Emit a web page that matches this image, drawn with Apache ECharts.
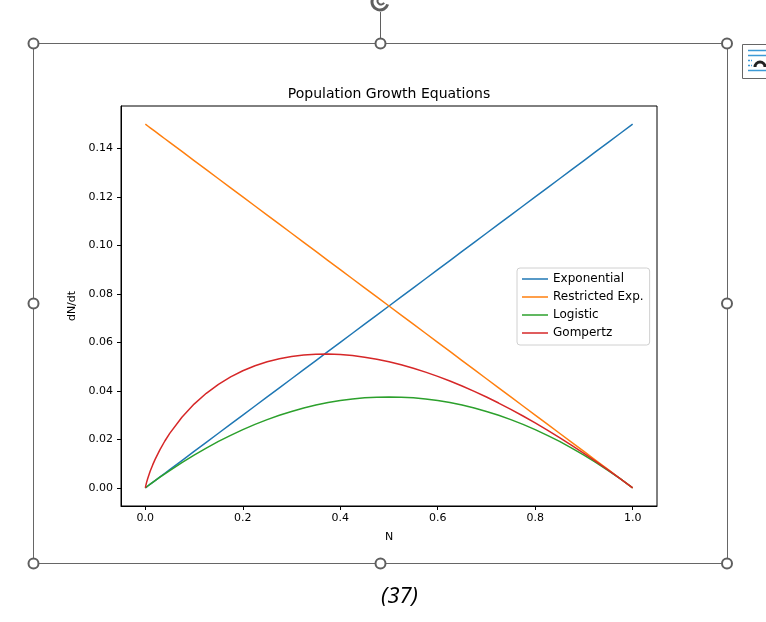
<!DOCTYPE html>
<html>
<head>
<meta charset="utf-8">
<script src="https://cdn.jsdelivr.net/npm/echarts@6/dist/echarts.min.js"></script>
<style>
  html, body { margin: 0; padding: 0; background: #fff; }
  #chart { width: 766px; height: 622px; }
</style>
</head>
<body>
<div id="chart"></div>
<script>
// values
var N = [0, 0.001, 0.0025, 0.005, 0.01, 0.015, 0.02, 0.03, 0.04,
	0.05, 0.075, 0.1, 0.125, 0.15, 0.175, 0.2, 0.225, 0.25, 0.275, 0.3, 0.325, 0.35, 0.375, 0.4, 0.425, 0.45, 0.475,
	0.5, 0.525, 0.55, 0.575, 0.6, 0.625, 0.65, 0.675, 0.7, 0.725, 0.75, 0.775, 0.8, 0.825, 0.85, 0.875, 0.9, 0.925, 0.95, 0.975, 1.0];
var exponential = [0, 0.00015, 0.000375, 0.00075, 0.0015, 0.00225, 0.003, 0.0045, 0.006,
	0.0075, 0.01125, 0.015, 0.01875, 0.0225, 0.02625, 0.03, 0.03375, 0.0375, 0.04125, 0.045, 0.04875, 0.0525, 0.05625, 0.06, 0.06375, 0.0675, 0.07125,
	0.075, 0.07875, 0.0825, 0.08625, 0.09, 0.09375, 0.0975, 0.10125, 0.105, 0.10875, 0.1125, 0.11625, 0.12, 0.12375, 0.1275, 0.13125, 0.135, 0.13875, 0.1425, 0.14625, 0.15];
var restricted = [0.15, 0.14985, 0.149625, 0.14925, 0.1485, 0.14775, 0.147, 0.1455, 0.144,
	0.1425, 0.13875, 0.135, 0.13125, 0.1275, 0.12375, 0.12, 0.11625, 0.1125, 0.10875, 0.105, 0.10125, 0.0975, 0.09375, 0.09, 0.08625, 0.0825, 0.07875,
	0.075, 0.07125, 0.0675, 0.06375, 0.06, 0.05625, 0.0525, 0.04875, 0.045, 0.04125, 0.0375, 0.03375, 0.03, 0.02625, 0.0225, 0.01875, 0.015, 0.01125, 0.0075, 0.00375, 0];
var logistic = [0, 0.00015, 0.000374, 0.000746, 0.001485, 0.002216, 0.00294, 0.004365, 0.00576,
	0.007125, 0.010406, 0.0135, 0.016406, 0.019125, 0.021656, 0.024, 0.026156, 0.028125, 0.029906, 0.0315, 0.032906, 0.034125, 0.035156, 0.036, 0.036656, 0.037125, 0.037406,
	0.0375, 0.037406, 0.037125, 0.036656, 0.036, 0.035156, 0.034125, 0.032906, 0.0315, 0.029906, 0.028125, 0.026156, 0.024, 0.021656, 0.019125, 0.016406, 0.0135, 0.010406, 0.007125, 0.003656, 0];
var gompertz = [0, 0.001036, 0.002247, 0.00397, 0.00691, 0.009449, 0.01174, 0.01578, 0.019313,
	0.02247, 0.02914, 0.03454, 0.03899, 0.04269, 0.04575, 0.04828, 0.05034, 0.05199, 0.05325, 0.05418, 0.05479, 0.05512, 0.05517, 0.05498, 0.05455, 0.0539, 0.05304,
	0.05199, 0.05074, 0.04932, 0.04773, 0.04597, 0.04406, 0.042, 0.0398, 0.03745, 0.03497, 0.03236, 0.02963, 0.02678, 0.02381, 0.02072, 0.01753, 0.01422, 0.01082, 0.00731, 0.0037, 0];
var seriesNames = ['Exponential', 'Restricted Exp.', 'Logistic', 'Gompertz'];
var xTicks = [0, 0.2, 0.4, 0.6, 0.8, 1.0];
var yTicks = [0, 0.02, 0.04, 0.06, 0.08, 0.10, 0.12, 0.14];

var colors = ['#1f77b4', '#ff7f0e', '#2ca02c', '#d62728'];
var values = [exponential, restricted, logistic, gompertz];

function pairs(arr) {
	return N.map(function(n, i) { return [n, arr[i]]; });
}

var handleColor = '#5f5f5f';
function handle(x, y) {
	return {
		type: 'circle',
		shape: { cx: x, cy: y, r: 5 },
		style: { fill: '#fff', stroke: handleColor, lineWidth: 2 },
		z: 100
	};
}

var chart = echarts.init(document.getElementById('chart'), null, { renderer: 'canvas' });

chart.setOption({
	animation: false,
	backgroundColor: '#fff',
	textStyle: { fontFamily: 'DejaVu Sans' },
	title: {
		text: 'Population Growth Equations',
		left: 389,
		top: 87,
		textAlign: 'center',
		padding: 0,
		textStyle: { fontFamily: 'DejaVu Sans', fontSize: 14, fontWeight: 'normal', color: '#000' }
	},
	grid: {
		left: 121,
		top: 106,
		width: 536,
		height: 400,
		show: true,
		borderColor: '#000',
		borderWidth: 1,
		backgroundColor: 'transparent'
	},
	legend: {
		orient: 'vertical',
		left: 517,
		top: 268,
		data: seriesNames,
		icon: 'rect',
		itemWidth: 26,
		itemHeight: 1.5,
		itemGap: 4,
		itemTextGap: 10,
		padding: [4, 6, 5, 5],
		backgroundColor: '#fff',
		borderColor: '#d0d0d0',
		borderWidth: 1,
		borderRadius: 3,
		textStyle: { fontFamily: 'DejaVu Sans', fontSize: 12, lineHeight: 14, color: '#000' }
	},
	xAxis: {
		type: 'value',
		min: -0.05,
		max: 1.05,
		name: 'N',
		nameLocation: 'middle',
		nameGap: 26,
		nameTextStyle: { fontFamily: 'DejaVu Sans', fontSize: 11, color: '#000' },
		axisLine: { show: true, onZero: false, lineStyle: { color: '#000', width: 1 } },
		axisTick: { show: true, length: 4, customValues: xTicks, lineStyle: { color: '#000' } },
		axisLabel: {
			customValues: xTicks,
			margin: 7,
			fontSize: 11,
			color: '#000',
			fontFamily: 'DejaVu Sans',
			formatter: function(v) { return v.toFixed(1); }
		},
		splitLine: { show: false }
	},
	yAxis: {
		type: 'value',
		min: -0.0075,
		max: 0.1575,
		name: 'dN/dt',
		nameLocation: 'middle',
		nameGap: 42,
		nameTextStyle: { fontFamily: 'DejaVu Sans', fontSize: 11, color: '#000' },
		axisLine: { show: true, onZero: false, lineStyle: { color: '#000', width: 1 } },
		axisTick: { show: true, length: 4, customValues: yTicks, lineStyle: { color: '#000' } },
		axisLabel: {
			customValues: yTicks,
			margin: 8,
			fontSize: 11,
			color: '#000',
			fontFamily: 'DejaVu Sans',
			formatter: function(v) { return v.toFixed(2); }
		},
		splitLine: { show: false }
	},
	series: seriesNames.map(function(name, i) {
		return {
			name: name,
			type: 'line',
			data: pairs(values[i]),
			showSymbol: false,
			symbol: 'none',
			smooth: false,
			color: colors[i],
			lineStyle: { color: colors[i], width: 1.5 },
			z: 2 + i
		};
	}),
	graphic: [
		// selection frame of the embedded picture
		{
			type: 'rect',
			shape: { x: 33.5, y: 43.5, width: 694, height: 520 },
			style: { fill: 'none', stroke: '#666', lineWidth: 1 },
			z: 90
		},
		// rotate handle
		{
			type: 'line',
			shape: { x1: 380.5, y1: 12, x2: 380.5, y2: 38 },
			style: { stroke: handleColor, lineWidth: 1 },
			z: 90
		},
		{
			type: 'arc',
			shape: { cx: 380, cy: 2, r: 8, startAngle: 0.3, endAngle: Math.PI * 1.9 },
			style: { fill: 'none', stroke: handleColor, lineWidth: 3 },
			z: 90
		},
		{
			type: 'arc',
			shape: { cx: 381, cy: 1, r: 3.5, startAngle: 0.5, endAngle: Math.PI * 1.6 },
			style: { fill: 'none', stroke: handleColor, lineWidth: 2 },
			z: 90
		},
		handle(33.5, 43.5), handle(380.5, 43.5), handle(727, 43.5),
		handle(33.5, 303.5), handle(727, 303.5),
		handle(33.5, 563.5), handle(380.5, 563.5), handle(727, 563.5),
		// layout options button
		{
			type: 'rect',
			shape: { x: 742.5, y: 44.5, width: 34, height: 34 },
			style: { fill: '#fff', stroke: '#666', lineWidth: 1 },
			z: 90
		},
		{ type: 'line', shape: { x1: 748, y1: 50.5, x2: 770, y2: 50.5 }, style: { stroke: '#3d9ad6', lineWidth: 1.5 }, z: 91 },
		{ type: 'line', shape: { x1: 748, y1: 55.5, x2: 770, y2: 55.5 }, style: { stroke: '#3d9ad6', lineWidth: 1.5 }, z: 91 },
		{ type: 'line', shape: { x1: 748, y1: 60.5, x2: 752, y2: 60.5 }, style: { stroke: '#3d9ad6', lineWidth: 1.5, lineDash: [2, 1] }, z: 91 },
		{ type: 'line', shape: { x1: 748, y1: 65.5, x2: 752, y2: 65.5 }, style: { stroke: '#3d9ad6', lineWidth: 1.5, lineDash: [2, 1] }, z: 91 },
		{ type: 'line', shape: { x1: 748, y1: 70.5, x2: 770, y2: 70.5 }, style: { stroke: '#3d9ad6', lineWidth: 1.5 }, z: 91 },
		{
			type: 'arc',
			shape: { cx: 760, cy: 67, r: 5, startAngle: Math.PI, endAngle: Math.PI * 2 },
			style: { fill: 'none', stroke: '#222', lineWidth: 3 },
			z: 91
		},
		// equation number caption
		{
			type: 'text',
			left: 381,
			top: 586,
			style: {
				text: '(37)',
				font: 'italic 22px "Noto Sans"',
				fill: '#000'
			},
			z: 90
		}
	]
});
</script>
</body>
</html>
